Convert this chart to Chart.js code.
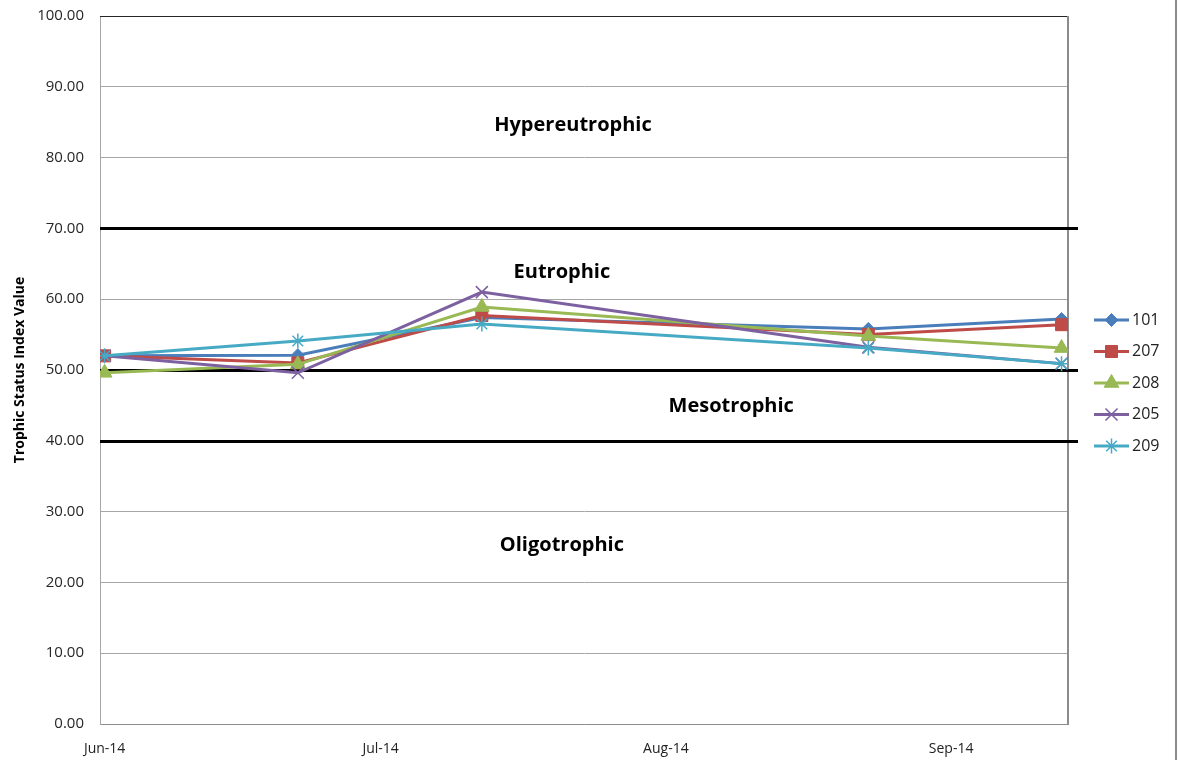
<!DOCTYPE html>
<html>
<head>
<meta charset="utf-8">
<script src="https://cdn.jsdelivr.net/npm/chart.js@4.4.1/dist/chart.umd.min.js"></script>
<style>
  html, body { margin: 0; padding: 0; background: #fff; }
  #wrap { width: 1180px; height: 760px; position: relative; }
</style>
</head>
<body>
<div id="wrap"><canvas id="tsi" width="1180" height="760"></canvas></div>
<script>
// Sampling dates and Trophic Status Index values per station
const sampleDates = ['2014-06-01', '2014-06-22', '2014-07-12', '2014-08-23', '2014-09-13'];
const stations = ['101', '207', '208', '205', '209'];
const tsi101 = [52.0, 52.1, 57.4, 55.8, 57.2];
const tsi207 = [52.0, 51.0, 57.7, 55.0, 56.4];
const tsi208 = [49.6, 50.8, 58.9, 54.8, 53.1];
const tsi205 = [52.0, 49.6, 61.0, 53.2, 50.9];
const tsi209 = [52.0, 54.1, 56.5, 53.1, 50.9];

// Month tick labels and their dates
const monthLabels = ['Jun-14', 'Jul-14', 'Aug-14', 'Sep-14'];
const monthDates = ['2014-06-01', '2014-07-01', '2014-08-01', '2014-09-01'];

// Trophic class boundaries and class names
const boundaries = [70, 50, 40];
const classNames = ['Hypereutrophic', 'Eutrophic', 'Mesotrophic', 'Oligotrophic'];

const DAY = 86400000;
const origin = Date.UTC(2014, 5, 1);
const dayOf = s => Math.round((Date.parse(s + 'T00:00:00Z') - origin) / DAY);
const xDays = sampleDates.map(dayOf);
const monthDays = monthDates.map(dayOf);

const seriesValues = [tsi101, tsi207, tsi208, tsi205, tsi209];
const colors = ['#4A7EBB', '#BE4B48', '#98B954', '#7D60A0', '#46AAC5'];
const markers = ['rectRot', 'rect', 'triangle', 'crossRot', 'star'];
const radii = [6.5, 8.5, 8.5, 8.5, 7.5];

const datasets = stations.map((name, i) => ({
  label: name,
  data: seriesValues[i].map((v, k) => ({ x: xDays[k], y: v })),
  borderColor: colors[i],
  backgroundColor: colors[i],
  borderWidth: 3,
  pointStyle: markers[i],
  pointRadius: radii[i],
  pointBorderWidth: (markers[i] === 'crossRot' || markers[i] === 'star') ? 1.5 : 1,
  pointBorderColor: colors[i],
  pointBackgroundColor: colors[i],
  tension: 0,
  order: stations.length - i
}));

// Class boundary lines, class names, frame and side legend
const trophicPlugin = {
  id: 'trophic',
  beforeDatasetsDraw(chart) {
    const { ctx, chartArea: a, scales: { y } } = chart;
    ctx.save();
    // frame: dark top edge, grey right edge
    ctx.strokeStyle = '#262626';
    ctx.lineWidth = 1;
    ctx.beginPath();
    ctx.moveTo(a.left, a.top + 0.5);
    ctx.lineTo(a.right, a.top + 0.5);
    ctx.stroke();
    ctx.strokeStyle = '#8c8c8c';
    ctx.lineWidth = 2;
    ctx.beginPath();
    ctx.moveTo(a.right, a.top);
    ctx.lineTo(a.right, a.bottom);
    ctx.stroke();
    // boundaries
    ctx.strokeStyle = '#000';
    ctx.lineWidth = 3;
    boundaries.forEach(b => {
      const py = Math.round(y.getPixelForValue(b)) + 0.5;
      ctx.beginPath();
      ctx.moveTo(a.left, py);
      ctx.lineTo(a.right + 10, py);
      ctx.stroke();
    });
    // class names
    const x = chart.scales.x;
    const spots = [[50.9, 84.5], [49.7, 63.8], [68.1, 44.9], [49.7, 25.3]];
    ctx.fillStyle = '#000';
    ctx.font = 'bold 20px "Open Sans", sans-serif';
    ctx.textAlign = 'center';
    ctx.textBaseline = 'middle';
    classNames.forEach((t, i) => {
      ctx.fillText(t, x.getPixelForValue(spots[i][0]), y.getPixelForValue(spots[i][1]));
    });
    ctx.restore();
  },
  afterDraw(chart) {
    const { ctx } = chart;
    ctx.save();
    // outer right border
    ctx.strokeStyle = '#8c8c8c';
    ctx.lineWidth = 2;
    ctx.beginPath();
    ctx.moveTo(1176, 0);
    ctx.lineTo(1176, 760);
    ctx.stroke();
    // legend
    const lx0 = 1094, lx1 = 1129, top = 320, gap = 31.5;
    ctx.font = '16px "Open Sans", sans-serif';
    ctx.textAlign = 'left';
    ctx.textBaseline = 'middle';
    chart.data.datasets.forEach((ds, i) => {
      const cy = top + i * gap;
      ctx.strokeStyle = ds.borderColor;
      ctx.lineWidth = 3;
      ctx.beginPath();
      ctx.moveTo(lx0, cy);
      ctx.lineTo(lx1, cy);
      ctx.stroke();
      ctx.fillStyle = ds.backgroundColor;
      ctx.strokeStyle = ds.borderColor;
      ctx.lineWidth = ds.pointBorderWidth;
      Chart.helpers.drawPoint(ctx, { pointStyle: ds.pointStyle, radius: ds.pointRadius, rotation: 0, borderWidth: ds.pointBorderWidth }, (lx0 + lx1) / 2, cy);
      ctx.fillStyle = '#222';
      ctx.fillText(ds.label, lx1 + 3, cy);
    });
    ctx.restore();
  }
};

new Chart(document.getElementById('tsi'), {
  type: 'line',
  data: { datasets },
  options: {
    responsive: false,
    animation: false,
    layout: { padding: { top: 16, right: 112, left: 0, bottom: 0 } },
    plugins: { legend: { display: false }, tooltip: { enabled: false } },
    scales: {
      x: {
        type: 'linear',
        min: -0.5,
        max: 104.7,
        afterBuildTicks: s => { s.ticks = monthDays.map(v => ({ value: v })); },
        afterFit: s => { s.height = 36; s.paddingLeft = 0; s.paddingRight = 0; },
        ticks: {
          autoSkip: false,
          maxRotation: 0,
          padding: 17,
          color: '#222',
          font: { family: '"Open Sans", sans-serif', size: 14 },
          callback: v => monthLabels[monthDays.indexOf(v)]
        },
        grid: { display: false, drawTicks: false },
        border: { color: '#8c8c8c', width: 1 }
      },
      y: {
        min: 0,
        max: 100,
        afterFit: s => { s.width = 100; s.paddingTop = 0; s.paddingBottom = 0; },
        ticks: {
          stepSize: 10,
          padding: 16,
          color: '#262626',
          font: { family: '"Open Sans", sans-serif', size: 15 },
          callback: v => v.toFixed(2)
        },
        grid: { color: '#a6a6a6', lineWidth: 1, drawTicks: false },
        border: { color: '#a6a6a6', width: 1 },
        title: {
          display: true,
          text: 'Trophic Status Index Value',
          color: '#000',
          font: { family: '"Open Sans", sans-serif', size: 14, weight: 'bold' },
          padding: { top: 12, bottom: 0 }
        }
      }
    }
  },
  plugins: [trophicPlugin]
});
</script>
</body>
</html>
